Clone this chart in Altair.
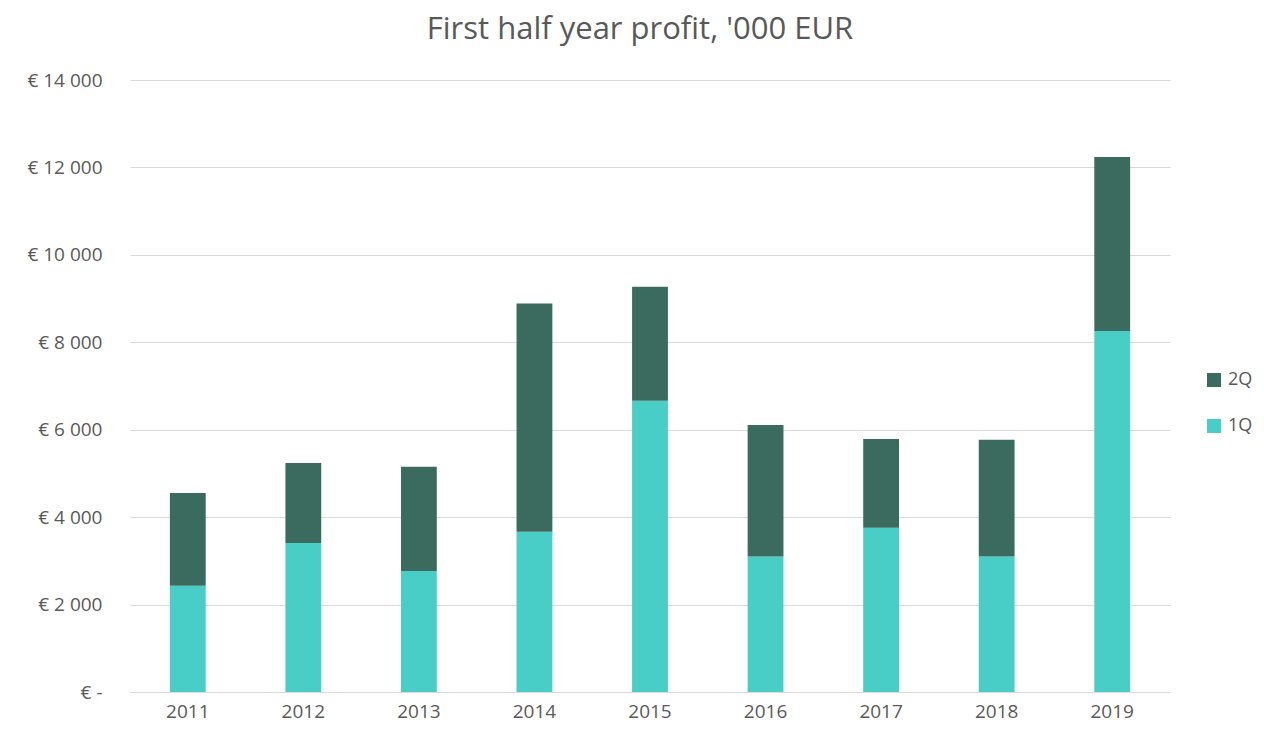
import altair as alt
import pandas as pd

years = ["2011", "2012", "2013", "2014", "2015", "2016", "2017", "2018", "2019"]
q1 = [2430, 3410, 2770, 3665, 6660, 3100, 3760, 3100, 8260]
q2 = [2125, 1830, 2385, 5225, 2610, 3005, 2025, 2670, 3980]
series = ["1Q", "2Q"]
colors = {"2Q": "#3B6B5F", "1Q": "#48CDC7"}
y_ticks = [0, 2000, 4000, 6000, 8000, 10000, 12000, 14000]

rows = []
for i, y in enumerate(years):
    rows.append({"year": y, "quarter": "1Q", "value": q1[i], "ord": 0})
    rows.append({"year": y, "quarter": "2Q", "value": q2[i], "ord": 1})
df = pd.DataFrame(rows)

FONT = "Open Sans"
GREY = "#595959"

chart = alt.Chart(df).mark_bar().encode(
    x=alt.X("year:N", sort=years, title=None,
            scale=alt.Scale(paddingInner=0.69, paddingOuter=0.345),
            axis=alt.Axis(labelAngle=0, ticks=False, domain=True, domainColor="#D9D9D9",
                          domainWidth=1, labelFontSize=19, labelColor=GREY,
                          labelFont=FONT, labelPadding=10, grid=False)),
    y=alt.Y("value:Q", stack="zero", title=None,
            scale=alt.Scale(domain=[0, 14000], nice=False),
            axis=alt.Axis(values=y_ticks, ticks=False, domain=False, gridColor="#D9D9D9",
                          gridWidth=1, labelFontSize=19, labelColor=GREY, labelFont=FONT,
                          labelPadding=28,
                          labelExpr="datum.value == 0 ? '€ -' : '€ ' + replace(format(datum.value, ','), ',', ' ')")),
    color=alt.Color("quarter:N",
                    scale=alt.Scale(domain=["2Q", "1Q"], range=[colors["2Q"], colors["1Q"]]),
                    legend=alt.Legend(title=None, orient="none", legendX=1075, legendY=291,
                                      symbolType="square", symbolSize=196, symbolStrokeWidth=0,
                                      labelFontSize=18, labelColor=GREY, labelFont=FONT,
                                      rowPadding=28, padding=0, labelOffset=5)),
    order=alt.Order("ord:Q"),
).properties(
    width=1040,
    height=612,
    title=alt.TitleParams("First half year profit, '000 EUR", fontSize=31, font=FONT,
                          color=GREY, fontWeight="normal", anchor="middle", offset=34,
                          dx=-10, dy=9),
    autosize=alt.AutoSizeParams(type="none"),
    padding={"left": 122, "top": 72, "right": 86, "bottom": 33},
).configure(background="white").configure_view(stroke=None, strokeWidth=0)

chart.save("out.html", embed_options={"renderer": "svg", "actions": False})
